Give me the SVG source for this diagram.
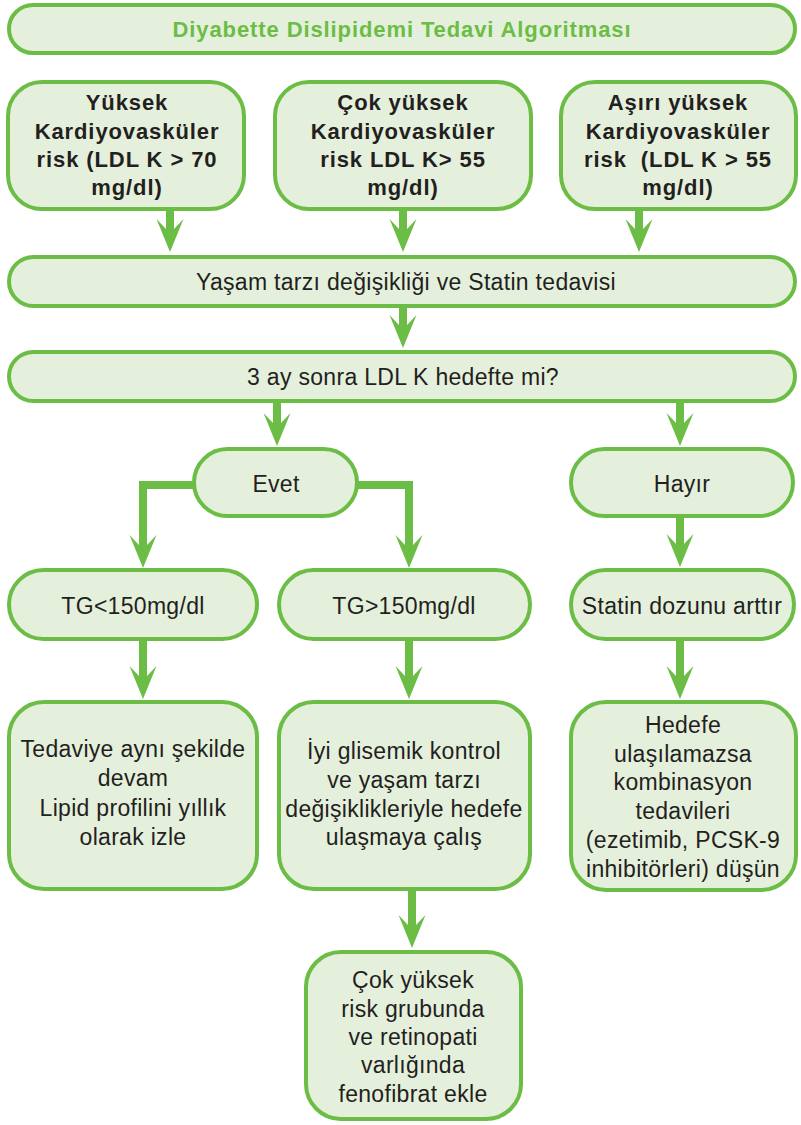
<svg xmlns="http://www.w3.org/2000/svg" width="801" height="1125" viewBox="0 0 801 1125">
  <style>
    .box { fill: #e5f0dc; stroke: #6cbd45; stroke-width: 4; }
    .t { font-family: "Liberation Sans", Arial, sans-serif; font-size: 23px; letter-spacing: 0.3px; fill: #231f20; text-anchor: middle; }
    .b { font-size: 22px; font-weight: bold; letter-spacing: 0.9px; }
    .title { font-family: "Liberation Sans", Arial, sans-serif; font-size: 22px; font-weight: bold; letter-spacing: 0.9px; fill: #6cbd45; text-anchor: middle; }
    .conn { fill: none; stroke: #6cbd45; stroke-width: 8; stroke-linejoin: miter; marker-end: url(#ah); }
  </style>
  <defs>
    <marker id="ah" markerUnits="userSpaceOnUse" markerWidth="36" markerHeight="30" viewBox="0 -15 36 30" refX="12" refY="0" orient="auto">
      <path d="M34,0 L1,-13.5 L11,-4 L11,4 L1,13.5 Z" fill="#6cbd45"/>
    </marker>
  </defs>

  <!-- connectors -->
  <g id="connectors">
    <path class="conn" d="M170,210 V230"/>
    <path class="conn" d="M403,210 V230"/>
    <path class="conn" d="M639,210 V230"/>
    <path class="conn" d="M403,307 V326"/>
    <path class="conn" d="M277,402 V424"/>
    <path class="conn" d="M680,402 V424"/>
    <path class="conn" d="M194,485 H143 V546"/>
    <path class="conn" d="M357,485 H409 V546"/>
    <path class="conn" d="M680,517 V545"/>
    <path class="conn" d="M143,640 V677"/>
    <path class="conn" d="M409,640 V677"/>
    <path class="conn" d="M680,640 V677"/>
    <path class="conn" d="M412,890 V926"/>
  </g>

  <g id="title">
    <rect class="box" x="9" y="5" width="786" height="48" rx="24"/>
    <text class="title" x="402" y="37">Diyabette Dislipidemi Tedavi Algoritması</text>
  </g>

  <g id="risk-high">
    <rect class="box" x="8" y="82" width="236" height="127" rx="34"/>
    <text class="t b" x="127" y="110">Yüksek</text>
    <text class="t b" x="127" y="139">Kardiyovasküler</text>
    <text class="t b" x="127" y="167">risk (LDL K &gt; 70</text>
    <text class="t b" x="127" y="195">mg/dl)</text>
  </g>

  <g id="risk-very-high">
    <rect class="box" x="275" y="82" width="256" height="127" rx="34"/>
    <text class="t b" x="403" y="110">Çok yüksek</text>
    <text class="t b" x="403" y="139">Kardiyovasküler</text>
    <text class="t b" x="403" y="167">risk LDL K&gt; 55</text>
    <text class="t b" x="403" y="195">mg/dl)</text>
  </g>

  <g id="risk-extreme">
    <rect class="box" x="561" y="82" width="235" height="127" rx="34"/>
    <text class="t b" x="678" y="110">Aşırı yüksek</text>
    <text class="t b" x="678" y="139">Kardiyovasküler</text>
    <text class="t b" x="678" y="167" xml:space="preserve">risk  (LDL K &gt; 55</text>
    <text class="t b" x="678" y="195">mg/dl)</text>
  </g>

  <g id="lifestyle">
    <rect class="box" x="9" y="257" width="786" height="49" rx="24.5"/>
    <text class="t" x="406" y="290">Yaşam tarzı değişikliği ve Statin tedavisi</text>
  </g>

  <g id="check">
    <rect class="box" x="9" y="352" width="786" height="49" rx="24.5"/>
    <text class="t" x="403" y="385">3 ay sonra LDL K hedefte mi?</text>
  </g>

  <g id="yes">
    <rect class="box" x="194" y="449" width="163" height="67" rx="33.5"/>
    <text class="t" x="276" y="492">Evet</text>
  </g>

  <g id="no">
    <rect class="box" x="571" y="449" width="222" height="67" rx="33.5"/>
    <text class="t" x="682" y="492">Hayır</text>
  </g>

  <g id="tg-low">
    <rect class="box" x="9" y="570" width="248" height="69" rx="34.5"/>
    <text class="t" x="133" y="614">TG&lt;150mg/dl</text>
  </g>

  <g id="tg-high">
    <rect class="box" x="279" y="570" width="251" height="69" rx="34.5"/>
    <text class="t" x="404" y="614">TG&gt;150mg/dl</text>
  </g>

  <g id="statin-up">
    <rect class="box" x="571" y="570" width="223" height="69" rx="34.5"/>
    <text class="t" x="682" y="614">Statin dozunu arttır</text>
  </g>

  <g id="continue">
    <rect class="box" x="9" y="702" width="248" height="187" rx="35"/>
    <text class="t" x="133" y="757">Tedaviye aynı şekilde</text>
    <text class="t" x="133" y="786">devam</text>
    <text class="t" x="133" y="816">Lipid profilini yıllık</text>
    <text class="t" x="133" y="845">olarak izle</text>
  </g>

  <g id="glycemic">
    <rect class="box" x="279" y="702" width="251" height="187" rx="35"/>
    <text class="t" x="404" y="759">İyi glisemik kontrol</text>
    <text class="t" x="404" y="788">ve yaşam tarzı</text>
    <text class="t" x="404" y="817">değişiklikleriyle hedefe</text>
    <text class="t" x="404" y="845">ulaşmaya çalış</text>
  </g>

  <g id="combination">
    <rect class="box" x="571" y="702" width="225" height="188" rx="35"/>
    <text class="t" x="683" y="733">Hedefe</text>
    <text class="t" x="683" y="762">ulaşılamazsa</text>
    <text class="t" x="683" y="790">kombinasyon</text>
    <text class="t" x="683" y="819">tedavileri</text>
    <text class="t" x="683" y="848">(ezetimib, PCSK-9</text>
    <text class="t" x="683" y="877">inhibitörleri) düşün</text>
  </g>

  <g id="fenofibrate">
    <rect class="box" x="306" y="952" width="215" height="167" rx="35"/>
    <text class="t" x="413" y="988">Çok yüksek</text>
    <text class="t" x="413" y="1017">risk grubunda</text>
    <text class="t" x="413" y="1045">ve retinopati</text>
    <text class="t" x="413" y="1073">varlığında</text>
    <text class="t" x="413" y="1102">fenofibrat ekle</text>
  </g>
</svg>
